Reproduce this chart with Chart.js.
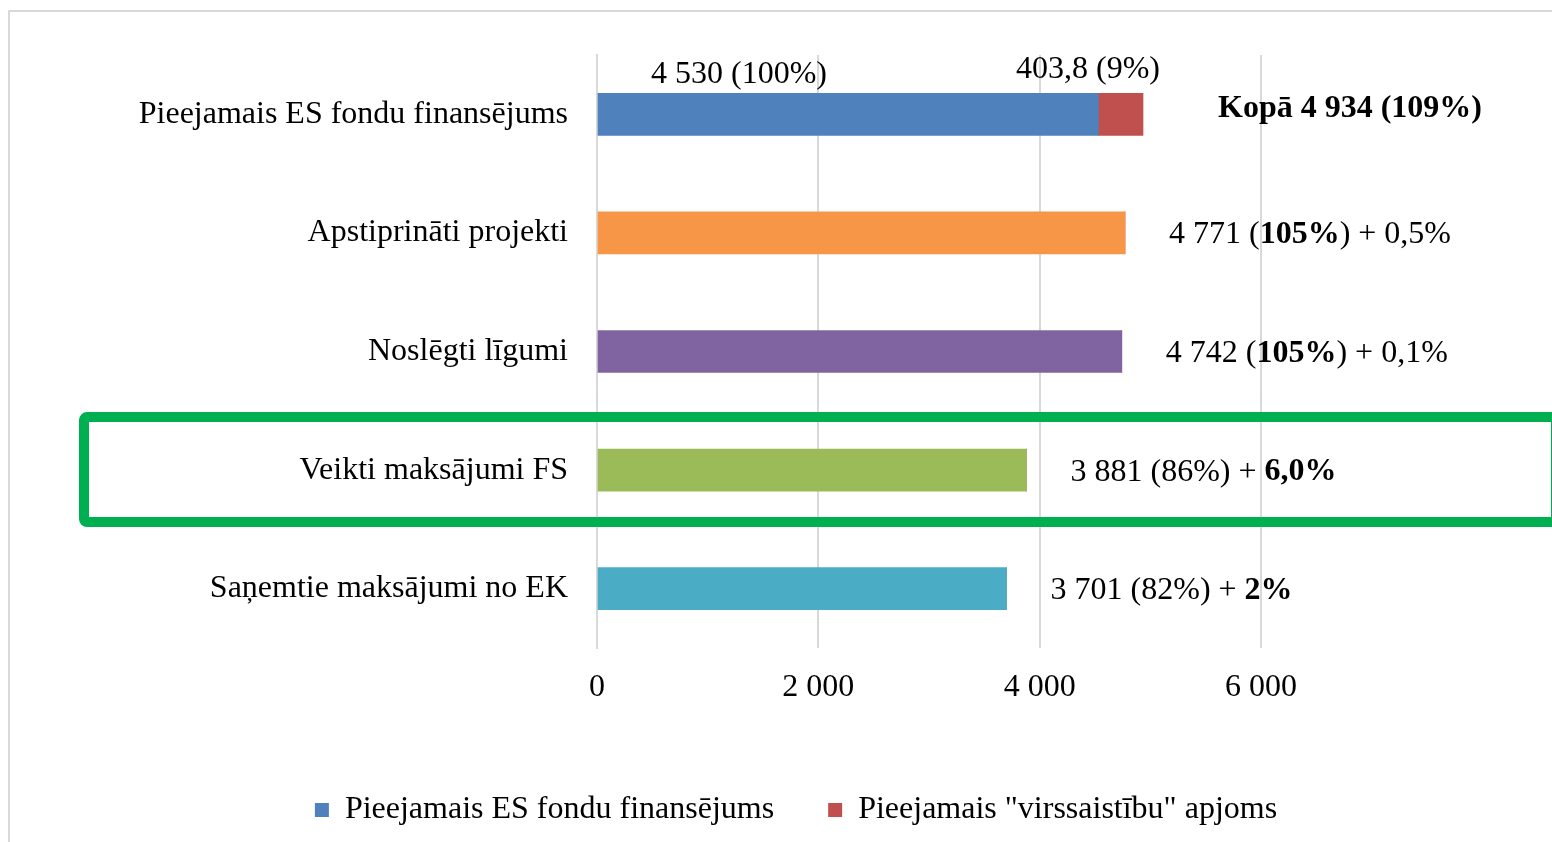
<!DOCTYPE html>
<html>
<head>
<meta charset="utf-8">
<script src="https://cdn.jsdelivr.net/npm/chart.js@4/dist/chart.umd.min.js"></script>
<style>
  html, body { margin: 0; padding: 0; background: #fff; }
  #wrap { width: 1552px; height: 842px; }
</style>
</head>
<body>
<div id="wrap"><canvas id="chart" width="1552" height="842"></canvas></div>
<script>
const CATEGORIES = [
  "Pieejamais ES fondu finansējums",
  "Apstiprināti projekti",
  "Noslēgti līgumi",
  "Veikti maksājumi FS",
  "Saņemtie maksājumi no EK",
];
const FUNDING_VALUES = [4530, 4771, 4742, 3881, 3701];
const OVER_VALUES = [403.8, 0, 0, 0, 0];
const SERIES_LABELS = ["Pieejamais ES fondu finansējums", "Pieejamais \"virssaistību\" apjoms"];
// ** marks bold parts
const TOTAL_LABELS = [
  "**Kopā 4 934 (109%)**",
  "4 771 (**105%**) + 0,5%",
  "4 742 (**105%**) + 0,1%",
  "3 881 (86%) + **6,0%**",
  "3 701 (82%) + **2%**",
];
const FUNDING_SEG_LABELS = ["4 530 (100%)", "", "", "", ""];
const OVER_SEG_LABELS = ["403,8 (9%)", "", "", "", ""];
const X_TICK_LABELS = ["0", "2 000", "4 000", "6 000"];
const HIGHLIGHT_INDEX = 3;

const BAR_COLORS = ["#4f81bd", "#f79646", "#8064a2", "#9bbb59", "#4bacc6"];
const OVER_COLOR = "#c0504d";
const FONT = "'Liberation Serif', 'Times New Roman', serif";
const FS = 32;

function drawRich(ctx, text, x, y, align) {
  const parts = text.split("**");
  let w = 0;
  parts.forEach((p, i) => {
    ctx.font = `${i % 2 ? "bold " : ""}${FS}px ${FONT}`;
    w += ctx.measureText(p).width;
  });
  let cx = align === "center" ? x - w / 2 : align === "right" ? x - w : x;
  ctx.textAlign = "left";
  parts.forEach((p, i) => {
    ctx.font = `${i % 2 ? "bold " : ""}${FS}px ${FONT}`;
    ctx.fillText(p, cx, y);
    cx += ctx.measureText(p).width;
  });
}

const framePlugin = {
  id: "frame",
  beforeDraw(chart) {
    const ctx = chart.ctx;
    ctx.save();
    ctx.fillStyle = "#fff";
    ctx.fillRect(0, 0, chart.width, chart.height);
    ctx.strokeStyle = "#d9d9d9";
    ctx.lineWidth = 2;
    ctx.strokeRect(9, 11, chart.width + 20, chart.height + 20);
    ctx.restore();
  },
};

const labelPlugin = {
  id: "barLabels",
  afterDatasetsDraw(chart) {
    const ctx = chart.ctx;
    const m0 = chart.getDatasetMeta(0);
    const m1 = chart.getDatasetMeta(1);
    ctx.save();
    ctx.fillStyle = "#000";
    ctx.textBaseline = "middle";
    CATEGORIES.forEach((c, i) => {
      const b0 = m0.data[i];
      const b1 = m1.data[i];
      const end = Math.max(b0.x, OVER_VALUES[i] ? b1.x : b0.x);
      const top = b0.y - 21;
      if (FUNDING_SEG_LABELS[i]) drawRich(ctx, FUNDING_SEG_LABELS[i], b0.base + 53, top - 19, "left");
      if (OVER_SEG_LABELS[i]) drawRich(ctx, OVER_SEG_LABELS[i], end + 17, top - 24, "right");
      if (i === 0) drawRich(ctx, TOTAL_LABELS[i], end + 75, b0.y - 6, "left");
      else drawRich(ctx, TOTAL_LABELS[i], end + 44, b0.y + 2, "left");
    });
    ctx.restore();
  },
  afterDraw(chart) {
    const ctx = chart.ctx;
    const y = chart.scales.y.getPixelForValue(HIGHLIGHT_INDEX);
    const left = chart.chartArea.left - 513;
    ctx.save();
    ctx.strokeStyle = "#00b050";
    ctx.lineWidth = 10;
    ctx.beginPath();
    ctx.roundRect(left, y - 53, chart.width + 4 - left, 105, 3);
    ctx.stroke();
    ctx.restore();
  },
};

new Chart(document.getElementById("chart"), {
  type: "bar",
  data: {
    labels: CATEGORIES,
    datasets: [
      {
        label: SERIES_LABELS[0],
        data: FUNDING_VALUES,
        backgroundColor: BAR_COLORS,
        barThickness: 42,
      },
      {
        label: SERIES_LABELS[1],
        data: OVER_VALUES,
        backgroundColor: OVER_COLOR,
        barThickness: 42,
      },
    ],
  },
  options: {
    indexAxis: "y",
    responsive: false,
    animation: false,
    layout: { padding: { left: 40, right: 0, top: 55, bottom: 6 } },
    plugins: {
      tooltip: { enabled: false },
      legend: {
        position: "bottom",
        labels: {
          color: "#000",
          font: { family: FONT, size: FS },
          boxWidth: 14,
          boxHeight: 14,
          padding: 54,
          generateLabels: chart => chart.data.datasets.map((ds, i) => ({
            text: ds.label,
            fillStyle: i === 0 ? BAR_COLORS[0] : OVER_COLOR,
            strokeStyle: "transparent",
            lineWidth: 0,
            datasetIndex: i,
          })),
        },
      },
    },
    scales: {
      x: {
        stacked: true,
        min: 0,
        max: 6000,
        ticks: {
          stepSize: 2000,
          color: "#000",
          font: { family: FONT, size: FS },
          padding: 20,
          callback: (v, i) => X_TICK_LABELS[i],
        },
        grid: { color: "#d9d9d9", lineWidth: 2, drawTicks: false },
        border: { display: false },
        afterFit: s => { s.height = 92; },
      },
      y: {
        stacked: true,
        ticks: {
          color: "#000",
          font: { family: FONT, size: FS },
          padding: 29,
        },
        grid: { display: false, drawTicks: false },
        border: { color: "#d9d9d9", width: 2 },
        afterFit: s => { s.width = 557; },
      },
      yR: {
        position: "right",
        display: true,
        ticks: { display: false },
        grid: { display: false, drawTicks: false },
        border: { display: false },
        afterFit: s => { s.width = 291; },
      },
    },
  },
  plugins: [framePlugin, labelPlugin],
});
</script>
</body>
</html>
